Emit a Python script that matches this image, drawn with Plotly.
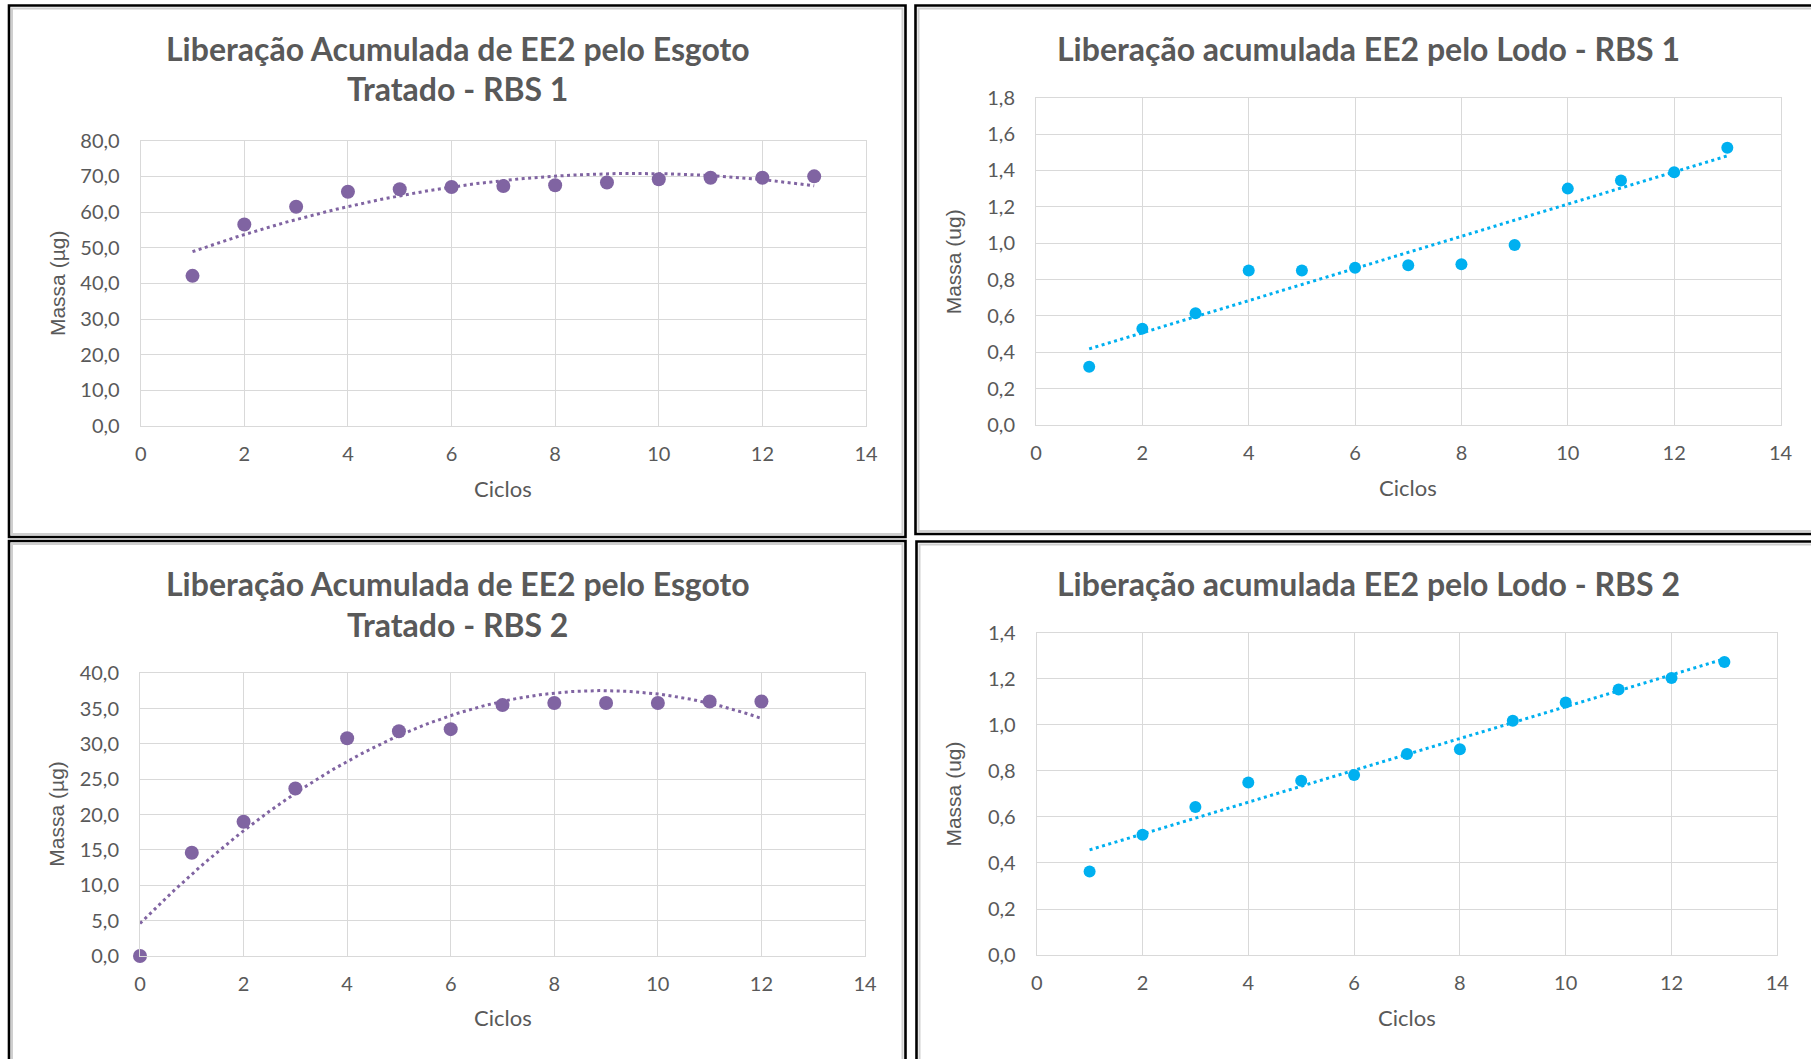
import numpy as np
import plotly.graph_objects as go

# Ciclos e massas acumuladas de EE2
ciclos_esgoto_rbs1 = [1, 2, 3, 4, 5, 6, 7, 8, 9, 10, 11, 12, 13]
massa_esgoto_rbs1 = [42.1, 56.5, 61.5, 65.7, 66.4, 67.0, 67.3, 67.5, 68.3, 69.2, 69.6, 69.6, 70.0]

ciclos_lodo_rbs1 = [1, 2, 3, 4, 5, 6, 7, 8, 9, 10, 11, 12, 13]
massa_lodo_rbs1 = [0.32, 0.53, 0.615, 0.85, 0.85, 0.865, 0.878, 0.884, 0.99, 1.30, 1.345, 1.39, 1.525]

ciclos_esgoto_rbs2 = [0, 1, 2, 3, 4, 5, 6, 7, 8, 9, 10, 11, 12]
massa_esgoto_rbs2 = [0.0, 14.6, 19.0, 23.7, 30.8, 31.8, 32.1, 35.5, 35.8, 35.8, 35.8, 36.0, 36.0]

ciclos_lodo_rbs2 = [1, 2, 3, 4, 5, 6, 7, 8, 9, 10, 11, 12, 13]
massa_lodo_rbs2 = [0.363, 0.522, 0.643, 0.749, 0.757, 0.782, 0.873, 0.894, 1.017, 1.097, 1.153, 1.203, 1.272]

W, H = 1811, 1059
PURPLE = "#8064A2"
BLUE = "#00B0F0"
GREY_TXT = "#595959"
GRID = "#D9D9D9"


def px_x(v):
    return v / W


def px_y(v):
    return 1 - v / H


# plot-area rectangles in pixels: (left, top, right, bottom)
areas = {
    "tl": (140.7, 140.7, 866.0, 426.0),
    "tr": (1036.0, 97.7, 1780.5, 425.0),
    "bl": (140.0, 673.3, 865.0, 956.0),
    "br": (1036.7, 632.6, 1777.3, 955.1),
}

fig = go.Figure()

panels = [
    ("tl", "x", "y", ciclos_esgoto_rbs1, massa_esgoto_rbs1, PURPLE, 2, 80, 10, "Massa (µg)"),
    ("tr", "x2", "y2", ciclos_lodo_rbs1, massa_lodo_rbs1, BLUE, 1, 1.8, 0.2, "Massa (ug)"),
    ("bl", "x3", "y3", ciclos_esgoto_rbs2, massa_esgoto_rbs2, PURPLE, 2, 40, 5, "Massa (µg)"),
    ("br", "x4", "y4", ciclos_lodo_rbs2, massa_lodo_rbs2, BLUE, 1, 1.4, 0.2, "Massa (ug)"),
]

for key, xa, ya, xs, ys, color, deg, ymax, dy, ytitle in panels:
    # trendline fitted to the series (polynomial for esgoto, linear for lodo)
    coef = np.polyfit(xs, ys, deg)
    xt = np.linspace(min(xs), max(xs), 200)
    yt = np.polyval(coef, xt)
    fig.add_trace(go.Scatter(
        x=xt, y=yt, mode="lines", xaxis=xa, yaxis=ya, showlegend=False,
        line=dict(color=color, width=3, dash="3px,3.5px"), hoverinfo="skip",
    ))
    fig.add_trace(go.Scatter(
        x=xs, y=ys, mode="markers", xaxis=xa, yaxis=ya, showlegend=False,
        cliponaxis=False,
        marker=dict(color=color, size=14 if color == PURPLE else 12, line=dict(width=0)),
    ))

    l, t, r, b = areas[key]
    xname = "xaxis" if xa == "x" else "xaxis" + xa[1:]
    yname = "yaxis" if ya == "y" else "yaxis" + ya[1:]
    fig.update_layout(**{
        xname: dict(
            domain=[px_x(l), px_x(r)], anchor=ya, range=[0, 14], dtick=2, tick0=0,
            showgrid=True, gridcolor=GRID, gridwidth=1, zeroline=False,
            showline=True, linecolor=GRID, linewidth=1, mirror=True,
            ticks="", ticklabelstandoff=10, automargin=False,
            tickfont=dict(family="Lato", size=20, color=GREY_TXT),
            fixedrange=True,
        ),
        yname: dict(
            domain=[px_y(b), px_y(t)], anchor=xa, range=[0, ymax], dtick=dy, tick0=0,
            tickformat=".1f",
            showgrid=True, gridcolor=GRID, gridwidth=1, zeroline=False,
            showline=True, linecolor=GRID, linewidth=1, mirror=True,
            ticks="", ticklabelstandoff=16, automargin=False,
            tickfont=dict(family="Lato", size=20, color=GREY_TXT),
            fixedrange=True,
        ),
    })

    # axis titles
    fig.add_annotation(
        x=px_x((l + r) / 2), y=px_y(b + 62), xref="paper", yref="paper",
        text="Ciclos", showarrow=False, xanchor="center", yanchor="middle",
        font=dict(family="Lato", size=22, color=GREY_TXT),
    )
    fig.add_annotation(
        x=px_x(l - 83), y=px_y((t + b) / 2), xref="paper", yref="paper",
        text=ytitle, showarrow=False, textangle=-90, xanchor="center", yanchor="middle",
        font=dict(family="Liberation Sans", size=21, color=GREY_TXT),
    )

# chart titles
title_font = dict(family="Lato", size=32, color=GREY_TXT, weight="bold")
titles = [
    ("Liberação Acumulada de EE2 pelo Esgoto", 458, 48.5),
    ("Tratado - RBS 1", 458, 89),
    ("Liberação acumulada EE2 pelo Lodo - RBS 1", 1368, 48.5),
    ("Liberação Acumulada de EE2 pelo Esgoto", 458, 583),
    ("Tratado - RBS 2", 458, 624),
    ("Liberação acumulada EE2 pelo Lodo - RBS 2", 1368, 583),
]
for txt, cx, cy in titles:
    fig.add_annotation(
        x=px_x(cx), y=px_y(cy), xref="paper", yref="paper", text=txt,
        showarrow=False, xanchor="center", yanchor="middle", font=title_font,
    )

# panel frames
frames = [
    (9, 5.5, 905.5, 537),
    (915.5, 5.5, 1830, 534),
    (9, 541, 905.5, 1080),
    (916.5, 541.5, 1830, 1080),
]
for x0, y0, x1, y1 in frames:
    fig.add_shape(
        type="rect", xref="paper", yref="paper",
        x0=px_x(x0 + 3), x1=px_x(x1 - 3), y0=px_y(y1 - 3), y1=px_y(y0 + 3),
        line=dict(color="#CFCFCF", width=2), layer="above",
    )
    fig.add_shape(
        type="rect", xref="paper", yref="paper",
        x0=px_x(x0), x1=px_x(x1), y0=px_y(y1), y1=px_y(y0),
        line=dict(color="#000000", width=2.6), layer="above",
    )

fig.update_layout(
    width=W, height=H, autosize=False,
    margin=dict(l=0, r=0, t=0, b=0, pad=0, autoexpand=False),
    paper_bgcolor="white", plot_bgcolor="white",
    separators=",.",
    showlegend=False,
)

fig.write_html("out.html", config={"displayModeBar": False})
